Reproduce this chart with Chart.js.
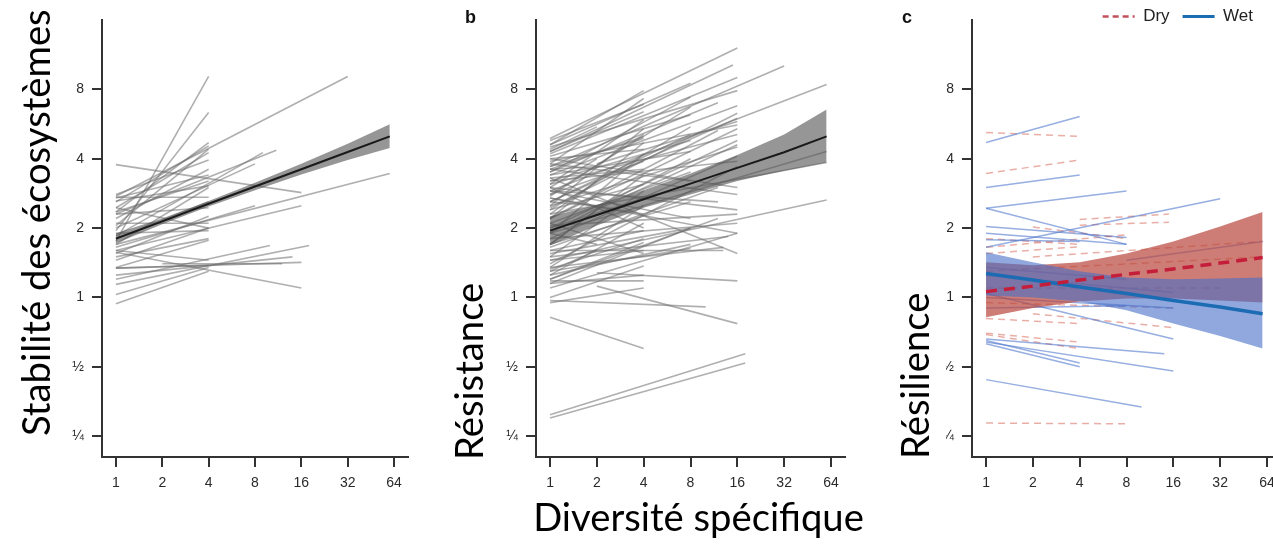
<!DOCTYPE html>
<html lang="fr">
<head>
<meta charset="utf-8">
<title>Diversité spécifique et stabilité</title>
<script src="https://cdn.jsdelivr.net/npm/chart.js@4.4.1/dist/chart.umd.min.js"></script>
<style>
  html, body { margin:0; padding:0; background:#fff; }
  #stage { position:relative; width:1273px; height:547px; overflow:hidden; background:#fff; }
  #stage canvas { position:absolute; }
  .ytitle, .xtitle { position:absolute; font-family:Lato, 'Open Sans', sans-serif; line-height:1; white-space:nowrap; color:#000; }
  .ytitle { transform-origin:0 0; transform:rotate(-90deg); }
  .panel { position:absolute; font-family:'Liberation Sans', Arial, sans-serif; font-weight:bold; font-size:18px; line-height:1; color:#111; }
</style>
</head>
<body>
<div id="stage">
  <canvas id="chartA" width="380" height="510" style="left:40px;top:0px"></canvas>
  <canvas id="chartB" width="385" height="510" style="left:470px;top:0px"></canvas>
  <canvas id="chartC" width="386" height="515" style="left:905px;top:-5px"></canvas>
  <div class="ytitle" id="titleA">Stabilité des écosystèmes</div>
  <div class="ytitle" id="titleB">Résistance</div>
  <div class="ytitle" id="titleC" style="background:#fff">Résilience</div>
  <div class="xtitle" id="titleX">Diversité spécifique</div>
  <div class="panel" style="left:465px;top:8px">b</div>
  <div class="panel" style="left:902px;top:8px">c</div>
</div>
<script>
// ---------- tick values / labels ----------
const xTickValues = [1, 2, 4, 8, 16, 32, 64];
const xTickLabels = ['1', '2', '4', '8', '16', '32', '64'];
const yTickValues = [0.25, 0.5, 1, 2, 4, 8];
const yTickLabels = ['¼', '½', '1', '2', '4', '8'];

// ---------- panel a : stabilité ----------
const stabX0 = [1,1,1,1,1,1,1,1,1,1, 1,1,1,1,1,1,1,1,1,1, 1,1,1,1,1,1,2,1,1,1, 1,1,1,1,1,1,1,1,1,1];
const stabY0 = [1.75,1.95,2.75,2.35,2.6,2.05,2.45,2.8,1.85,2.3, 2.0,3.77,1.7,2.7,2.62,2.72,1.6,1.65,2.3,1.55, 2.1,1.9,1.5,1.35,1.2,1.14,1.4,1.25,1.34,1.57, 1.6,1.03,0.94,1.34,2.45,1.8,2.2,1.7,2.35,1.45];
const stabX1 = [4,4,32,4,4,4,4,4,9,11, 8,16,60,4,4,4,16,8,4,4, 4,4,4,4,10,18,12,14,16,16, 4,4,4,4,4,4,4,4,4,4];
const stabY1 = [9.1,6.35,9.1,4.7,4.55,4.4,4.25,3.95,4.25,4.35, 3.8,2.85,3.45,3.4,3.05,2.72,2.5,2.5,2.45,2.25, 2.1,1.95,1.8,1.77,1.68,1.68,1.4,1.5,1.42,1.1, 1.45,1.35,1.3,1.38,2.0,2.6,3.6,3.0,3.2,2.0];
const fitX = [1, 2, 4, 8, 16, 32, 60];
const stabFit = [1.8, 2.14, 2.55, 3.03, 3.6, 4.28, 5.0];
const stabLow = [1.72, 2.08, 2.48, 2.92, 3.42, 3.95, 4.45];
const stabHigh = [1.9, 2.2, 2.62, 3.15, 3.8, 4.65, 5.65];

// ---------- panel b : résistance ----------
const resX0 = [1,1,1,1,1,1,1,1,1,1, 1,1,1,1,1,1,1,1,2,2, 1,1,1,1,1,1,1,1,1,1, 1,1,1,1,1,1,1,1,1,1, 1,1,1,1,1,1,1,1,1,1, 1,1,1,1,1,1,1,1,1,1, 1,1,1,1,1,1,1,1,1,1, 1,1,1,1,1,1,1,1,1,1, 1,1,1,1,1,1,1,1,1,1, 1,1,2,2,1,1,1,1,1,1];
const resY0 = [4.9,4.3,3.7,2.9,4.5,3.4,2.6,3.9,2.2,3.1, 2.0,2.5,1.8,4.0,3.6,3.0,2.7,3.3,1.28,1.12, 1.45,1.9,2.3,1.6,1.35,1.5,0.97,0.82,0.31,0.30, 4.6,3.5,2.8,4.1,2.4,3.2,1.9,2.1,3.8,1.7, 2.9,1.3,2.6,3.4,1.15,4.6,3.8,4.3,3.1,2.5, 3.6,2.2,4.0,1.9,2.8,3.3,1.7,2.4,1.5,2.0, 1.35,2.7,1.25,1.6,1.2,1.45,1.0,1.18,0.95,1.33, 3.0,2.1,4.8,3.7,1.15,4.4,3.0,2.3,1.7,1.3, 3.6,2.6,1.9,1.4,1.2,2.2,3.5,1.8,4.2,3.2, 2.45,1.65,2.4,3.8,1.1,2.9,2.05,1.55,1.25,2.75];
const resX1 = [16,15,32,60,16,16,16,16,16,16, 16,16,16,16,16,16,16,16,16,16, 60,60,60,13,13,14,10,4,18,18, 8,8,8,8,8,8,8,8,8,8, 8,8,8,8,8,4,4,4,4,4, 4,4,4,4,4,4,4,4,4,4, 4,4,4,4,4,4,4,4,4,4, 4,4,4,4,4,2,2,2,2,2, 2,2,2,16,12,12,12,16,16,16, 16,12,16,16,16,12,16,8,8,4];
const resY1 = [12.1,10.2,10.1,8.4,7.9,6.8,6.0,5.6,5.4,5.1, 4.8,4.5,4.1,3.0,2.8,2.4,1.9,1.55,1.18,0.77, 2.65,4.3,3.85,1.6,1.65,1.84,0.91,0.6,0.57,0.52, 8.5,7.4,6.7,6.2,5.5,4.8,4.0,3.5,3.2,2.6, 2.2,1.63,5.1,4.3,2.0,7.9,7.3,6.4,5.9,5.4, 5.0,4.7,4.4,4.2,3.9,3.6,3.4,3.1,2.9,2.7, 2.5,2.3,2.1,1.95,1.73,1.6,1.37,1.18,1.1,1.8, 2.0,1.55,6.9,4.9,1.25,5.5,4.0,3.2,2.4,1.6, 3.7,2.5,1.7,3.7,2.2,5.3,7.0,2.1,9.0,3.9, 6.3,3.0,4.6,5.8,1.9,2.6,2.3,2.0,1.7,5.1];
const resFit = [1.95, 2.28, 2.67, 3.12, 3.65, 4.27, 5.0];
const resLow = [1.68, 2.05, 2.45, 2.8, 3.2, 3.55, 3.85];
const resHigh = [2.25, 2.52, 2.92, 3.45, 4.15, 5.1, 6.55];

// ---------- panel c : résilience (Wet / Dry) ----------
const wetX0 = [1,1,1,1,1,1,1,1,1,1,1,1,1,1,8,1,1,1,1];
const wetY0 = [4.7,3.0,2.44,2.44,1.65,2.03,1.9,1.78,1.04,0.66,0.64,0.65,0.63,0.44,1.45,1.25,1.35,1.0,0.9];
const wetX1 = [4,4,8,8,32,8,8,4,16,14,16,4,4,10,60,16,8,16,8];
const wetY1 = [6.1,3.4,2.9,1.7,2.68,1.82,1.7,1.75,0.66,0.57,0.48,0.52,0.5,0.335,1.75,1.05,1.2,0.9,0.92];
const dryX0 = [1,1,4,4,2,1,1,2,1,1,1,2,1,1,1,1,1];
const dryY0 = [5.2,3.45,2.18,2.06,2.02,1.65,1.55,1.5,0.70,0.69,0.81,0.85,0.285,1.1,0.95,1.8,1.3];
const dryX1 = [4,4,15,15,8,8,4,60,4,4,4,16,8,32,16,4,60];
const dryY1 = [5.0,3.95,2.3,2.12,1.8,1.87,1.66,1.75,0.64,0.6,0.77,0.74,0.283,1.1,0.9,1.7,1.5];
const wetFit = [1.27, 1.19, 1.11, 1.04, 0.97, 0.91, 0.85];
const wetLow = [1.02, 1.0, 0.96, 0.88, 0.77, 0.68, 0.6];
const wetHigh = [1.57, 1.42, 1.3, 1.22, 1.2, 1.21, 1.22];
const dryFit = [1.06, 1.12, 1.19, 1.26, 1.33, 1.41, 1.49];
const dryLow = [0.82, 0.9, 0.96, 0.99, 0.99, 0.97, 0.95];
const dryHigh = [1.42, 1.38, 1.42, 1.55, 1.75, 2.03, 2.35];

// ---------- helpers ----------
Chart.defaults.animation = false;
const tickFont = "'Liberation Sans Narrow', 'Liberation Sans', Arial, sans-serif";
const X_MIN = Math.pow(2, -0.3), X_MAX = Math.pow(2, 6.3);
const Y_MIN = Math.pow(2, -2.3), Y_MAX = 16;

const ptsOf = (xs, ys) => xs.map((x, i) => ({x: x, y: ys[i]}));

function segmentSets(x0, y0, x1, y1, style) {
  return x0.map((_, i) => Object.assign({
    label: '', data: [{x: x0[i], y: y0[i]}, {x: x1[i], y: y1[i]}],
    pointRadius: 0, fill: false, order: 3
  }, style));
}
function bandSets(xs, lo, hi, color, order) {
  return [
    {label: '', data: ptsOf(xs, lo), borderWidth: 0, borderColor: 'rgba(0,0,0,0)', pointRadius: 0, fill: false, order: order},
    {label: '', data: ptsOf(xs, hi), borderWidth: 0, borderColor: 'rgba(0,0,0,0)', pointRadius: 0, backgroundColor: color, fill: '-1', order: order}
  ];
}
function axis(isX, vals, labels, min, max, size) {
  return {
    type: 'logarithmic', min: min, max: max,
    afterBuildTicks: s => { s.ticks = vals.map(v => ({value: v})); },
    afterFit: s => { if (isX) s.height = size; else s.width = size; },
    ticks: { autoSkip: false, maxRotation: 0, minRotation: 0, padding: 8, color: '#2a2a2a',
             font: {family: tickFont, size: 14}, callback: (v, i) => labels[i] },
    grid: { drawOnChartArea: false, drawTicks: true, tickLength: 10, lineWidth: 2, color: '#333' },
    border: { display: true, color: '#333', width: 2 }
  };
}
function baseOptions(yWidth, padding) {
  return {
    responsive: false, events: [],
    layout: { padding: padding },
    plugins: { legend: { display: false }, tooltip: { enabled: false } },
    elements: { line: { tension: 0 } },
    scales: {
      x: axis(true, xTickValues, xTickLabels, X_MIN, X_MAX, 53),
      y: axis(false, yTickValues, yTickLabels, Y_MIN, Y_MAX, yWidth)
    }
  };
}
const greyLine = { borderColor: 'rgba(110,110,110,0.55)', borderWidth: 1.6 };

// ---------- panel a ----------
new Chart(document.getElementById('chartA'), {
  type: 'line',
  data: { datasets: [
    {label: '', data: ptsOf(fitX, stabFit), borderColor: '#1a1a1a', borderWidth: 2, pointRadius: 0, fill: false, order: 0},
    ...bandSets(fitX, stabLow, stabHigh, 'rgba(80,80,80,0.6)', 1),
    ...segmentSets(stabX0, stabY0, stabX1, stabY1, greyLine)
  ]},
  options: baseOptions(62, {top: 20, right: 12, left: 0, bottom: 0})
});

// ---------- panel b ----------
new Chart(document.getElementById('chartB'), {
  type: 'line',
  data: { datasets: [
    {label: '', data: ptsOf(fitX, resFit), borderColor: '#1a1a1a', borderWidth: 2, pointRadius: 0, fill: false, order: 0},
    ...bandSets(fitX, resLow, resHigh, 'rgba(80,80,80,0.6)', 1),
    ...segmentSets(resX0, resY0, resX1, resY1, greyLine)
  ]},
  options: baseOptions(66, {top: 20, right: 10, left: 0, bottom: 0})
});

// ---------- panel c ----------
const optsC = baseOptions(67, {top: 0, right: 10, left: 0, bottom: 0});
optsC.plugins.legend = {
  display: true, position: 'top', align: 'end', maxHeight: 25,
  labels: {
    usePointStyle: true, pointStyle: 'line', pointStyleWidth: 32, padding: 13,
    color: '#222', font: {family: "'Liberation Sans', Arial, sans-serif", size: 17},
    filter: item => item.text !== '',
    generateLabels: chart => Chart.defaults.plugins.legend.labels.generateLabels(chart).map(item => {
      if (item.text === 'Dry') { item.lineDash = [6, 4]; item.lineWidth = 2.5; item.strokeStyle = '#c2505c'; }
      else if (item.text === 'Wet') { item.lineDash = []; item.lineWidth = 3; item.strokeStyle = '#1c6cb4'; }
      return item;
    })
  }
};
// legend sits partly over the plot's top margin, as in the original figure
const legendShift = { id: 'legendShift', afterLayout(chart) {
  if (chart.legend) { chart.legend.right -= 15; chart.legend.bottom += 12; }
} };
new Chart(document.getElementById('chartC'), {
  type: 'line',
  data: { datasets: [
    {label: 'Dry', data: ptsOf(fitX, dryFit), borderColor: '#c41e3a', borderWidth: 3.5, borderDash: [11, 7], pointRadius: 0, fill: false, order: 0},
    {label: 'Wet', data: ptsOf(fitX, wetFit), borderColor: '#1c6cb4', borderWidth: 3.5, pointRadius: 0, fill: false, order: 0},
    ...bandSets(fitX, wetLow, wetHigh, 'rgba(70,110,200,0.6)', 1),
    ...bandSets(fitX, dryLow, dryHigh, 'rgba(185,70,60,0.7)', 2),
    ...segmentSets(wetX0, wetY0, wetX1, wetY1, {borderColor: 'rgba(80,120,205,0.6)', borderWidth: 1.5}),
    ...segmentSets(dryX0, dryY0, dryX1, dryY1, {borderColor: 'rgba(215,110,95,0.55)', borderWidth: 1.5, borderDash: [7, 5]})
  ]},
  options: optsC,
  plugins: [legendShift]
});

// ---------- titles (sized to the reference lengths) ----------
const titleSpecs = [
  {id: 'titleA', len: 429, base: 50, mid: 222.5, rot: true},
  {id: 'titleB', len: 177, base: 483, mid: 371.5, rot: true},
  {id: 'titleC', len: 168, base: 929, mid: 376, rot: true, cover: 946},
  {id: 'titleX', len: 327, base: 531, mid: 698.5, rot: false}
];
const mctx = document.createElement('canvas').getContext('2d');
function measure(text, size) { mctx.font = size + "px Lato, 'Open Sans', sans-serif"; return mctx.measureText(text).width; }
let sumTarget = 0, sumMeasured = 0;
titleSpecs.forEach(t => { sumTarget += t.len; sumMeasured += measure(document.getElementById(t.id).textContent, 100); });
const titleSize = 100 * sumTarget / sumMeasured;
titleSpecs.forEach(t => {
  const el = document.getElementById(t.id);
  el.style.fontSize = titleSize + 'px';
  const w = measure(el.textContent, titleSize);
  const asc = 0.887 * titleSize;
  if (t.rot) {
    const left = t.base - asc;
    el.style.left = left + 'px';
    el.style.top = (t.mid + w / 2) + 'px';
    if (t.cover) el.style.paddingBottom = Math.max(0, t.cover - (left + titleSize)) + 'px';
  } else {
    el.style.left = (t.mid - w / 2) + 'px';
    el.style.top = (t.base - asc) + 'px';
  }
});
</script>
</body>
</html>
